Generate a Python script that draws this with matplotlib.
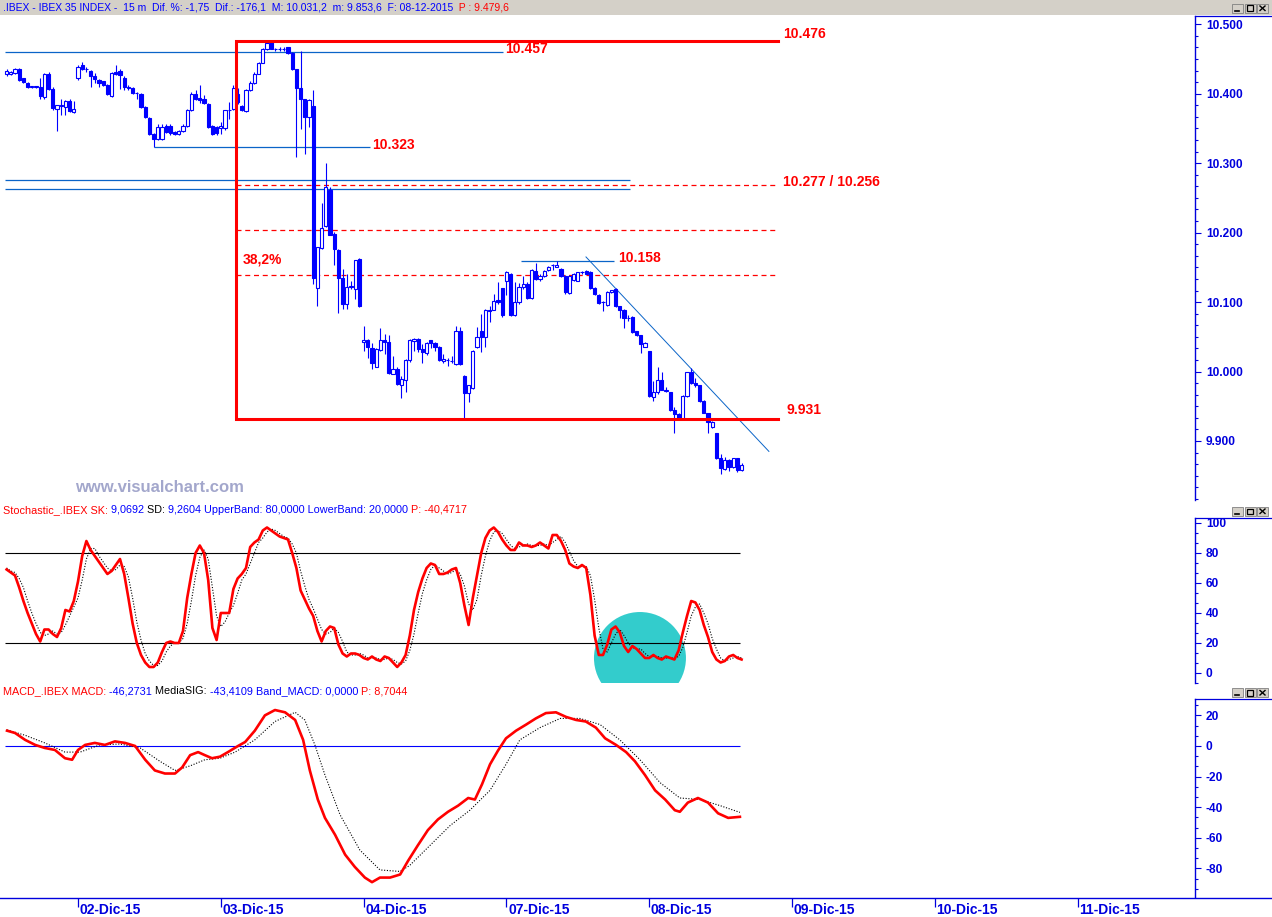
import matplotlib
matplotlib.use("Agg")
import matplotlib.pyplot as plt
from matplotlib.patches import Rectangle, Ellipse
from matplotlib.lines import Line2D
from matplotlib.ticker import MultipleLocator, FuncFormatter
import numpy as np

plt.rcParams['font.family'] = ['Liberation Sans', 'DejaVu Sans']

# ---- IBEX 35, 15 min bars (01-Dic-15 afternoon .. 08-Dic-15) ----
opens = [10429, 10428, 10430, 10435, 10422, 10416, 10410, 10410, 10410, 10395,
         10429, 10407, 10378, 10383, 10381, 10390, 10374, 10422, 10441, 10435,
         10433, 10425, 10420, 10418, 10413, 10397, 10431, 10433, 10423, 10409,
         10409, 10401, 10399, 10381, 10365, 10342, 10335, 10335, 10353, 10353,
         10345, 10342, 10346, 10353, 10376, 10400, 10394, 10393, 10385, 10354,
         10352, 10350, 10350, 10376, 10378, 10400, 10383, 10375, 10405, 10415,
         10429, 10445, 10464, 10474, 10464, 10464, 10464, 10467, 10459, 10435,
         10409, 10392, 10366, 10382, 10121, 10178, 10209, 10262, 10198, 10175,
         10135, 10097, 10122, 10119, 10162, 10042, 10046, 10034, 10007, 10031,
         10045, 10043, 9997, 10003, 9981, 9988, 10016, 10044, 10047, 10032,
         10026, 10045, 10041, 10036, 10015, 10016, 10015, 10011, 10058, 9994,
         9969, 9976, 10035, 10058, 10050, 10089, 10089, 10103, 10120, 10130,
         10140, 10082, 10100, 10122, 10126, 10106, 10145, 10133, 10138, 10146,
         10153, 10151, 10148, 10138, 10113, 10132, 10131, 10143, 10145, 10144,
         10121, 10110, 10100, 10096, 10114, 10119, 10094, 10089, 10077, 10079,
         10058, 10052, 10036, 10029, 9963, 9970, 9988, 9972, 9970, 9944,
         9939, 9932, 9965, 9999, 9983, 9980, 9958, 9940, 9920, 9911,
         9876, 9860, 9872, 9862, 9875, 9858]
highs = [10435, 10433, 10437, 10437, 10423, 10417, 10411, 10411, 10422, 10430,
         10431, 10410, 10384, 10392, 10391, 10392, 10390, 10441, 10446, 10439,
         10434, 10430, 10421, 10419, 10414, 10432, 10442, 10435, 10425, 10412,
         10410, 10403, 10401, 10382, 10366, 10343, 10356, 10357, 10357, 10357,
         10346, 10348, 10356, 10378, 10402, 10405, 10412, 10398, 10386, 10355,
         10353, 10359, 10377, 10388, 10412, 10408, 10384, 10407, 10418, 10431,
         10446, 10466, 10475, 10478, 10466, 10467, 10468, 10468, 10460, 10436,
         10461, 10393, 10392, 10405, 10180, 10242, 10301, 10266, 10201, 10176,
         10148, 10141, 10131, 10160, 10163, 10066, 10047, 10041, 10034, 10063,
         10054, 10052, 10022, 10007, 9994, 10018, 10047, 10048, 10048, 10039,
         10042, 10046, 10042, 10037, 10025, 10020, 10023, 10065, 10064, 9995,
         9981, 10031, 10064, 10083, 10090, 10095, 10112, 10129, 10121, 10145,
         10142, 10129, 10128, 10138, 10129, 10147, 10156, 10140, 10146, 10152,
         10155, 10159, 10149, 10139, 10139, 10142, 10144, 10145, 10146, 10145,
         10122, 10111, 10102, 10116, 10118, 10120, 10095, 10090, 10081, 10080,
         10059, 10053, 10042, 10030, 9987, 10007, 10000, 9978, 9971, 9949,
         9940, 9966, 10000, 10005, 9991, 9981, 9959, 9941, 9929, 9912,
         9881, 9877, 9874, 9876, 9876, 9869]
lows = [10426, 10427, 10429, 10418, 10415, 10408, 10409, 10409, 10393, 10393,
        10406, 10377, 10346, 10370, 10370, 10374, 10372, 10420, 10434, 10431,
        10410, 10415, 10410, 10411, 10398, 10396, 10427, 10407, 10405, 10406,
        10399, 10393, 10380, 10365, 10341, 10324, 10334, 10334, 10343, 10341,
        10341, 10340, 10345, 10352, 10375, 10391, 10386, 10385, 10351, 10341,
        10340, 10342, 10348, 10364, 10377, 10385, 10375, 10374, 10404, 10414,
        10428, 10444, 10463, 10464, 10462, 10462, 10461, 10457, 10434, 10309,
        10349, 10313, 10352, 10126, 10094, 10177, 10208, 10196, 10153, 10084,
        10090, 10090, 10119, 10105, 10093, 10029, 10020, 10004, 10006, 10030,
        10025, 9997, 9996, 9981, 9962, 9970, 10014, 10029, 10028, 10012,
        10024, 10034, 10030, 10015, 10013, 10008, 10012, 10010, 10010, 9931,
        9956, 9975, 10034, 10028, 10035, 10071, 10088, 10097, 10079, 10110,
        10080, 10080, 10097, 10119, 10104, 10105, 10132, 10130, 10136, 10145,
        10146, 10150, 10136, 10112, 10112, 10131, 10130, 10141, 10140, 10119,
        10110, 10097, 10087, 10095, 10113, 10093, 10077, 10063, 10073, 10056,
        10051, 10026, 10035, 9964, 9958, 9968, 9973, 9970, 9943, 9911,
        9931, 9931, 9964, 9982, 9978, 9956, 9940, 9912, 9919, 9874,
        9853, 9858, 9857, 9861, 9856, 9857]
closes = [10433, 10431, 10435, 10420, 10417, 10410, 10410, 10410, 10397, 10428,
          10407, 10379, 10384, 10383, 10390, 10375, 10378, 10439, 10435, 10435,
          10426, 10421, 10415, 10412, 10399, 10430, 10428, 10427, 10410, 10409,
          10401, 10401, 10381, 10366, 10342, 10335, 10352, 10352, 10345, 10343,
          10342, 10347, 10354, 10376, 10400, 10392, 10391, 10386, 10352, 10342,
          10343, 10354, 10376, 10376, 10409, 10388, 10376, 10406, 10415, 10429,
          10444, 10465, 10473, 10465, 10464, 10464, 10464, 10458, 10436, 10409,
          10393, 10366, 10391, 10134, 10179, 10207, 10266, 10197, 10177, 10134,
          10097, 10122, 10122, 10160, 10094, 10046, 10035, 10013, 10033, 10045,
          10043, 9998, 10003, 9982, 9989, 10017, 10046, 10047, 10032, 10028,
          10041, 10041, 10035, 10016, 10018, 10016, 10015, 10058, 10011, 9969,
          9980, 10030, 10050, 10050, 10088, 10087, 10101, 10100, 10081, 10143,
          10082, 10100, 10122, 10126, 10106, 10146, 10133, 10137, 10145, 10150,
          10153, 10154, 10137, 10114, 10138, 10141, 10143, 10143, 10141, 10121,
          10111, 10098, 10100, 10115, 10117, 10094, 10088, 10077, 10077, 10057,
          10052, 10040, 10041, 9965, 9970, 9988, 9974, 9972, 9944, 9939,
          9932, 9965, 9999, 9983, 9980, 9958, 9941, 9927, 9927, 9876,
          9861, 9872, 9863, 9875, 9858, 9866]

# stochastic SK / SD per bar
stoch_sk = [69, 67, 65, 57, 48, 40, 33, 26, 21, 29,
            29, 26, 24, 30, 42, 41, 48, 61, 78, 88,
            82, 78, 74, 70, 66, 68, 72, 76, 66, 50,
            33, 20, 12, 7, 4, 4, 7, 14, 20, 21,
            20, 20, 28, 50, 66, 80, 85, 80, 62, 30,
            22, 40, 40, 40, 56, 63, 66, 70, 84, 87,
            89, 95, 97, 95, 93, 91, 90, 89, 80, 70,
            55, 49, 43, 38, 28, 21, 28, 31, 30, 19,
            13, 11, 13, 13, 12, 10, 9, 11, 9, 8,
            11, 10, 7, 4, 7, 12, 25, 42, 54, 63,
            70, 73, 72, 66, 66, 67, 69, 70, 60, 45,
            32, 50, 65, 80, 90, 95, 97, 94, 89, 85,
            82, 82, 87, 85, 85, 84, 85, 87, 85, 83,
            92, 92, 88, 82, 73, 71, 70, 72, 70, 52,
            25, 12, 12, 19, 29, 31, 27, 18, 14, 18,
            16, 13, 10, 10, 12, 10, 9, 11, 10, 9,
            15, 27, 38, 48, 47, 42, 32, 24, 14, 9,
            7, 8, 11, 12, 10, 9]
stoch_sd = [70, 68, 67, 63, 57, 48, 40, 33, 27, 25,
            26, 28, 26, 27, 32, 38, 44, 50, 62, 76,
            83, 83, 78, 74, 70, 68, 69, 72, 71, 64,
            50, 34, 22, 13, 8, 5, 5, 8, 14, 18,
            20, 20, 23, 33, 48, 65, 77, 82, 76, 57,
            38, 31, 34, 40, 45, 53, 62, 66, 73, 80,
            87, 90, 94, 96, 95, 93, 91, 90, 86, 80,
            68, 58, 49, 43, 36, 29, 26, 27, 30, 27,
            21, 14, 12, 12, 13, 12, 10, 10, 10, 9,
            9, 10, 9, 7, 6, 8, 15, 26, 40, 53,
            62, 69, 72, 70, 68, 66, 67, 69, 66, 58,
            46, 42, 49, 65, 78, 88, 94, 95, 93, 89,
            85, 83, 84, 85, 86, 85, 85, 85, 86, 85,
            87, 89, 91, 87, 81, 75, 71, 71, 71, 65,
            49, 30, 16, 14, 20, 26, 29, 25, 20, 17,
            16, 16, 13, 11, 11, 11, 10, 10, 10, 10,
            11, 17, 27, 38, 44, 46, 40, 33, 23, 16,
            10, 8, 9, 10, 11, 10]

# MACD and its signal, read at bar positions
macd_pos = [0.1, 2.0, 4.4, 6.8, 9.1, 11.5, 13.9, 15.6, 17.0, 18.7, 21.0, 23.4, 25.8,
            28.2, 30.6, 33.0, 35.3, 37.7, 40.1, 41.8, 43.7, 45.6, 47.2, 48.9, 50.8,
            52.7, 55.1, 56.8, 59.1, 61.5, 63.9, 66.3, 68.7, 70.6, 72.2, 74.1, 75.8,
            78.2, 80.6, 82.9, 85.3, 87.0, 88.9, 91.3, 93.7, 95.6, 97.9, 100.3, 102.7,
            105.1, 107.5, 109.9, 111.5, 113.2, 115.1, 117.0, 118.9, 121.3, 123.7,
            126.0, 128.4, 130.8, 133.2, 135.6, 137.9, 140.3, 142.5, 145.1, 147.5,
            149.6, 152.0, 154.4, 156.8, 159.1, 160.3, 162.2, 164.6, 167.0, 169.4,
            171.8, 174.6]
macd_val = [10, 8.5, 4, 0.7, -1.3, -2.6, -8, -9, -2.6, 0.7, 2, 0.7, 3,
            2, 0, -9, -16, -18, -18, -14, -6, -4, -6, -8, -7,
            -4, 0, 2.6, 10, 20, 23.5, 22, 17, 4, -16, -35, -47,
            -58, -71, -79, -86, -89, -86, -86, -84, -75, -65, -55, -48,
            -43, -39, -34, -35, -25, -12, -3, 5, 10, 14,
            18, 21.5, 22, 19, 17, 16, 12, 5, 0.7, -4,
            -10, -19, -29, -35, -42, -43, -37, -34, -37, -44,
            -47, -46.3]
sig_pos = [0.1, 4.4, 9.1, 13.9, 17.5, 22.2, 27.0, 31.8, 36.5, 40.1, 43.7, 47.2,
           50.8, 54.4, 59.1, 63.9, 68.7, 71.0, 73.4, 75.8, 79.4, 84.1, 88.9, 93.7,
           96.0, 100.8, 105.6, 110.3, 115.1, 118.9, 122.2, 127.0, 131.8, 136.5,
           141.3, 146.0, 150.8, 155.6, 160.3, 165.1, 169.9, 174.6]
sig_val = [10.5, 7, 2, -4, -4, 0.7, 1.3, -1.3, -10, -16, -13, -9,
           -8, -4, 4, 16, 22, 17, 0.7, -19, -45, -68, -81, -82,
           -78, -65, -52, -42, -29, -12, 4, 12, 18, 18,
           14, 4, -9, -24, -34, -35, -39, -43.4]

day_start = [17, 51, 85, 119, 153, 187, 221, 255]
day_labels = ["02-Dic-15", "03-Dic-15", "04-Dic-15", "07-Dic-15",
              "08-Dic-15", "09-Dic-15", "10-Dic-15", "11-Dic-15"]

# drawn studies (price levels and bar spans)
box_top, box_bottom, box_x0, box_x1 = 10476, 9931, 54.6, 183.7
fibo_levels = [10269, 10204, 10139]
blue_levels = [10460, 10323, 10276, 10263, 10159]
blue_from = [-0.4, 35.1, -0.4, -0.4, 122.5]
blue_to = [118.2, 86.5, 148.4, 148.4, 144.6]
trend_x = [137.95, 181.5]
trend_y = [10165, 9885]
notes = ["10.476", "10.457", "10.323", "10.277 / 10.256", "10.158", "9.931", "38,2%"]
notes_x = [184.9, 118.7, 87.0, 184.9, 145.6, 185.8, 56.3]
notes_y = [10486, 10464, 10326, 10273, 10163, 9944, 10161]

W, H = 1272, 917
BAR_PX, X0_PX = 4.2, 6.6
BLUE = '#0000ff'
AXBLUE = '#0000dd'
LBLUE = '#0a64c8'
RED = '#ff0000'
GRAY = '#d4d0c8'

fig = plt.figure(figsize=(W / 100, H / 100), dpi=100)


def rect(x0, y0, x1, y1):
    return [x0 / W, 1 - y1 / H, (x1 - x0) / W, (y1 - y0) / H]


def fy(y):
    return 1 - y / H


def style_panel(ax, ylim, major, minor, fmt):
    ax.set_xlim(-X0_PX / BAR_PX, (1195 - X0_PX) / BAR_PX)
    ax.set_ylim(*ylim)
    ax.patch.set_alpha(0)
    for s in ['left', 'top', 'bottom']:
        ax.spines[s].set_visible(False)
    ax.spines['right'].set_color(AXBLUE)
    ax.spines['right'].set_linewidth(1.0)
    ax.set_xticks([])
    ax.yaxis.tick_right()
    ax.yaxis.set_major_locator(MultipleLocator(major))
    ax.yaxis.set_minor_locator(MultipleLocator(minor))
    ax.yaxis.set_major_formatter(FuncFormatter(fmt))
    ax.tick_params(axis='y', which='major', direction='out', length=4.3, width=0.8,
                   color=AXBLUE, pad=3.5, labelcolor=AXBLUE, labelsize=8.6)
    ax.tick_params(axis='y', which='minor', direction='out', length=2.2, width=0.8,
                   color=AXBLUE)
    for t in ax.get_yticklabels():
        t.set_fontweight('bold')


def text_run(y_px, parts, x_px=3, size=7.8):
    r = fig.canvas.get_renderer()
    x = x_px
    for s, c in parts:
        t = fig.text(x / W, fy(y_px), s, color=c, fontsize=size, va='center', ha='left')
        x += t.get_window_extent(r).width


def win_buttons(y_top):
    for k in range(3):
        x0 = 1232 + k * 12.5
        fig.add_artist(Rectangle((x0 / W, fy(y_top + 9)), 11 / W, 9 / H,
                                 transform=fig.transFigure, facecolor=GRAY,
                                 edgecolor='#808080', lw=0.6))
        if k == 0:
            fig.add_artist(Line2D([(x0 + 3) / W, (x0 + 7) / W], [fy(y_top + 7)] * 2,
                                  transform=fig.transFigure, color='black', lw=1.2))
        elif k == 1:
            fig.add_artist(Rectangle(((x0 + 2.5) / W, fy(y_top + 7.5)), 6 / W, 5.5 / H,
                                     transform=fig.transFigure, facecolor='none',
                                     edgecolor='black', lw=0.9))
        else:
            fig.add_artist(Line2D([(x0 + 3) / W, (x0 + 8) / W], [fy(y_top + 2.5), fy(y_top + 7)],
                                  transform=fig.transFigure, color='black', lw=1.0))
            fig.add_artist(Line2D([(x0 + 3) / W, (x0 + 8) / W], [fy(y_top + 7), fy(y_top + 2.5)],
                                  transform=fig.transFigure, color='black', lw=1.0))


def top_edge(y):
    fig.add_artist(Line2D([1195 / W, 1], [fy(y)] * 2, transform=fig.transFigure,
                          color=AXBLUE, lw=0.9))


# header bar
fig.add_artist(Rectangle((0, fy(15)), 1, 15 / H, transform=fig.transFigure,
                         facecolor=GRAY, edgecolor='none'))
win_buttons(3.5)
top_edge(15.5)
text_run(8, [(".IBEX - IBEX 35 INDEX -  15 m  Dif. %: -1,75  Dif.: -176,1  M: 10.031,2  "
              "m: 9.853,6  F: 08-12-2015", BLUE), ("  P : 9.479,6", RED)], size=7.5)

# ---- main price panel ----
ax = fig.add_axes(rect(0, 15.5, 1195, 500))
style_panel(ax, (9815.0, 10512.7), 100, 100 / 6,
            lambda v, _: f"{v:,.0f}".replace(",", "."))

o = np.array(opens, float)
c = np.array(closes, float)
x = np.arange(len(o))
up = c >= o
ax.vlines(x, lows, highs, color=BLUE, lw=0.8, zorder=3)
ax.bar(x, np.maximum(np.abs(c - o), 0.8), bottom=np.minimum(o, c), width=0.75,
       color=np.where(up, 'white', BLUE), edgecolor=BLUE, lw=0.8, zorder=4)

for lvl, a, b in zip(blue_levels, blue_from, blue_to):
    ax.hlines(lvl, a, b, color=LBLUE, lw=0.9, zorder=2)
ax.plot(trend_x, trend_y, color=LBLUE, lw=0.7, zorder=2)
for lvl in fibo_levels:
    ax.hlines(lvl, box_x0, box_x1, color=RED, lw=0.9, linestyles=(0, (4, 3)), zorder=2)
ax.plot([box_x1, box_x0, box_x0, box_x1], [box_top, box_top, box_bottom, box_bottom],
        color=RED, lw=2.2, zorder=5, solid_joinstyle='miter')
for s, nx, ny in zip(notes, notes_x, notes_y):
    ax.text(nx, ny, s, color=RED, fontsize=10, weight='bold', va='center', ha='left')

fig.text(75 / W, fy(487), "www.visualchart.com", color='#a3a7cc', fontsize=12,
         weight='bold', va='center', ha='left')

# ---- stochastic panel ----
win_buttons(506.5)
top_edge(518)
text_run(510, [("Stochastic_.IBEX SK:", RED), (" 9,0692", BLUE), (" SD:", 'black'),
               (" 9,2604", BLUE), (" UpperBand: 80,0000 LowerBand: 20,0000", BLUE),
               (" P: -40,4717", RED)])
ax_s = fig.add_axes(rect(0, 518, 1195, 683))
style_panel(ax_s, (-6.67, 103.33), 20, 20 / 3, lambda v, _: f"{v:.0f}")
ax_s.add_patch(Ellipse((150.8, 10), 21.9, 61.3, facecolor='#33cccc', edgecolor='none', zorder=1))
ax_s.hlines([80, 20], -0.4, 174.6, color='black', lw=0.8, zorder=2)
ax_s.plot(x, stoch_sd, color='black', lw=0.8, ls=(0, (1, 1.5)), zorder=3)
ax_s.plot(x, stoch_sk, color=RED, lw=1.9, zorder=4)

# ---- MACD panel ----
win_buttons(688)
top_edge(699)
text_run(691, [("MACD_.IBEX MACD:", RED), (" -46,2731", BLUE), (" MediaSIG:", 'black'),
               (" -43,4109", BLUE), (" Band_MACD: 0,0000", BLUE), (" P: 8,7044", RED)])
ax_m = fig.add_axes(rect(0, 699, 1195, 898))
style_panel(ax_m, (-99.35, 30.7), 20, 20 / 3, lambda v, _: f"{v:.0f}")
ax_m.hlines(0, -0.4, 174.6, color=BLUE, lw=0.8, zorder=2)
ax_m.plot(sig_pos, sig_val, color='black', lw=0.8, ls=(0, (1, 1.5)), zorder=3)
ax_m.plot(macd_pos, macd_val, color=RED, lw=1.9, zorder=4)

# ---- date axis ----
ax_d = fig.add_axes(rect(0, 898, 1272, 917))
ax_d.set_xlim(-X0_PX / BAR_PX, (1272 - X0_PX) / BAR_PX)
ax_d.set_ylim(0, 1)
for s in ['left', 'right', 'bottom']:
    ax_d.spines[s].set_visible(False)
ax_d.spines['top'].set_color(AXBLUE)
ax_d.spines['top'].set_linewidth(1.0)
ax_d.xaxis.tick_top()
ax_d.set_xticks(day_start)
ax_d.tick_params(axis='x', direction='in', length=6.5, width=0.9, color=AXBLUE,
                 labeltop=False)
ax_d.set_yticks([])
for d, lab in zip(day_start, day_labels):
    ax_d.text(d + 0.4, 0.35, lab, color=AXBLUE, fontsize=10, weight='bold',
              va='center', ha='left')

fig.savefig("out.png", dpi=100)
